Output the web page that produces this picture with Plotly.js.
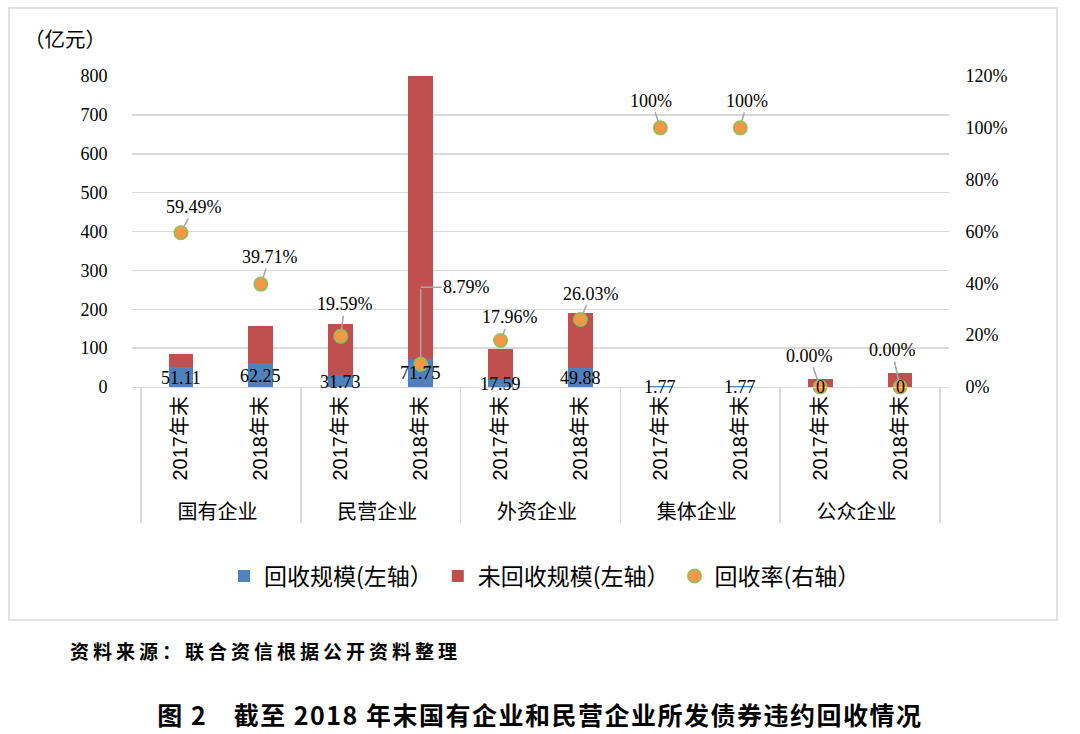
<!DOCTYPE html>
<html><head><meta charset="utf-8">
<script src="https://cdn.plot.ly/plotly-3.0.1.min.js"></script>
<style>
html,body{margin:0;padding:0;background:#fff;}
#chart{width:1080px;height:734px;}
g.annotation[data-index="22"] text{letter-spacing:4px;}
g.annotation[data-index="23"] text{letter-spacing:1.5px;}
</style>
</head><body>
<div id="chart"></div>
<script>
// ---- data ----
const groups = ['国有企业','国有企业','民营企业','民营企业','外资企业','外资企业','集体企业','集体企业','公众企业','公众企业'];
const years = ['2017年末','2018年末','2017年末','2018年末','2017年末','2018年末','2017年末','2018年末','2017年末','2018年末'];
const recovered = [51.11, 62.25, 31.73, 71.75, 17.59, 49.88, 1.77, 1.77, 0, 0];
const unrecovered = [34.8, 94.5, 130.2, 744.5, 80.35, 141.7, 0, 0, 20, 35];
const recoveryRate = [0.5949, 0.3971, 0.1959, 0.0879, 0.1796, 0.2603, 1, 1, 0, 0];
const seriesNames = ['回收规模(左轴）', '未回收规模(左轴）', '回收率(右轴）'];
const leftTicks = [0,100,200,300,400,500,600,700,800];
const rightTicks = [0,0.2,0.4,0.6,0.8,1.0,1.2];
const unitLabel = '（亿元）';
const sourceText = '资料来源：联合资信根据公开资料整理';
const figTitle = '图 2　截至 2018 年末国有企业和民营企业所发债券违约回收情况';

// ---- label placement (styling only) ----
const valueLabelShift = [9, 11, 5, 14, 3, 9, 0, 0, 0, 0];
const rateLabelDx = [13, 9, 4, 46, 9, 11, -9, 7, -11, -8];
const rateLabelDy = [-26, -27, -32, -77, -23, -26, -27, -27, -31, -37];

const W = 1080, H = 734;
const L = 132, R = 131, T = 76, B = 347;
const PW = W - L - R, PH = H - T - B;
const px = v => (v - L) / PW;
const py = v => (H - B - v) / PH;

const SERIF = "'Liberation Serif', 'Noto Sans CJK SC', serif";
const SANS = "'Liberation Sans', 'Noto Sans CJK SC', sans-serif";
const CJK = "'Noto Sans CJK SC', sans-serif";

const xcats = [groups, years];

const traces = [
  {type:'bar', name:seriesNames[0], x:xcats, y:recovered, marker:{color:'#4F81BD'}, yaxis:'y', hoverinfo:'skip'},
  {type:'bar', name:seriesNames[1], x:xcats, y:unrecovered, marker:{color:'#C0504D'}, yaxis:'y', hoverinfo:'skip'},
  {type:'scatter', mode:'markers', name:seriesNames[2], x:xcats, y:recoveryRate, yaxis:'y2', cliponaxis:false,
   marker:{color:'#F79646', size:13, line:{color:'#9BBB59', width:2}}, hoverinfo:'skip'}
];

const rateText = r => r === 1 ? '100%' : (r*100).toFixed(2) + '%';

const annotations = [];
// value labels for recovered amounts
recovered.forEach((v,i) => {
  annotations.push({xref:'x', yref:'y', x:i, y:0, text:String(v), showarrow:false,
    yanchor:'middle', yshift:valueLabelShift[i], font:{family:SERIF, size:18, color:'#000'}});
});
// rate labels with leader lines
recoveryRate.forEach((r,i) => {
  if (i === 3) {
    annotations.push({xref:'x', yref:'y2', x:i, y:r, text:'', showarrow:true, ax:0, ay:rateLabelDy[i],
      arrowhead:0, arrowwidth:1.5, arrowcolor:'#A6A6A6', standoff:7, font:{family:SERIF, size:18, color:'#000'}});
    annotations.push({xref:'x', yref:'y2', x:i, y:r, yshift:-rateLabelDy[i], text:rateText(r), showarrow:true,
      ax:rateLabelDx[i], ay:0, arrowhead:0, arrowwidth:1.5, arrowcolor:'#A6A6A6', standoff:0,
      font:{family:SERIF, size:18, color:'#000'}});
  } else {
    annotations.push({xref:'x', yref:'y2', x:i, y:r, text:rateText(r), showarrow:true,
      ax:rateLabelDx[i], ay:rateLabelDy[i], arrowhead:0, arrowwidth:1.5, arrowcolor:'#A6A6A6', standoff:7,
      font:{family:SERIF, size:18, color:'#000'}});
  }
});
// unit label
annotations.push({xref:'paper', yref:'paper', x:px(22), y:py(38), xanchor:'left', yanchor:'middle',
  text:unitLabel, showarrow:false, font:{family:CJK, size:20.5, color:'#000'}});
// source
annotations.push({xref:'paper', yref:'paper', x:px(265), y:py(650), xanchor:'center', yanchor:'middle',
  text:sourceText, showarrow:false, font:{family:CJK, size:19, color:'#000', weight:700}});
// figure title
annotations.push({xref:'paper', yref:'paper', x:px(540), y:py(714), xanchor:'center', yanchor:'middle',
  text:figTitle, showarrow:false, font:{family:CJK, size:25, color:'#000', weight:700}});

const layout = {
  width:W, height:H,
  margin:{l:L, r:R, t:T, b:B},
  paper_bgcolor:'#fff', plot_bgcolor:'#fff',
  barmode:'stack', bargap:0.69,
  showlegend:true,
  legend:{orientation:'h', x:px(224), y:py(576), xanchor:'left', yanchor:'middle', traceorder:'normal',
    itemwidth:30, font:{family:CJK, size:23, color:'#000'}},
  xaxis:{type:'multicategory', showline:true, linecolor:'#D9D9D9', linewidth:1,
    showdividers:true, dividercolor:'#D9D9D9', dividerwidth:1.5, tickangle:-90,
    tickfont:{family:SANS, size:20, color:'#000'}, showgrid:false, ticks:''},
  yaxis:{range:[0,800], tickvals:leftTicks, showgrid:true, gridcolor:'#D9D9D9', gridwidth:1.5, zeroline:false,
    tickfont:{family:SERIF, size:18, color:'#000'}, ticks:'outside', ticklen:20, tickcolor:'rgba(0,0,0,0)'},
  yaxis2:{overlaying:'y', side:'right', range:[0,1.2], tickvals:rightTicks, tickformat:'.0%', showgrid:false,
    zeroline:false, tickfont:{family:SERIF, size:18, color:'#000'}, ticks:'outside', ticklen:12, tickcolor:'rgba(0,0,0,0)'},
  annotations:annotations,
  shapes:[{type:'rect', xref:'paper', yref:'paper', x0:px(9), x1:px(1057), y0:py(620), y1:py(8),
    line:{color:'#D9D9D9', width:1.5}, fillcolor:'rgba(0,0,0,0)', layer:'below'}]
};

Plotly.newPlot('chart', traces, layout, {displayModeBar:false, staticPlot:true});
</script>
</body></html>
